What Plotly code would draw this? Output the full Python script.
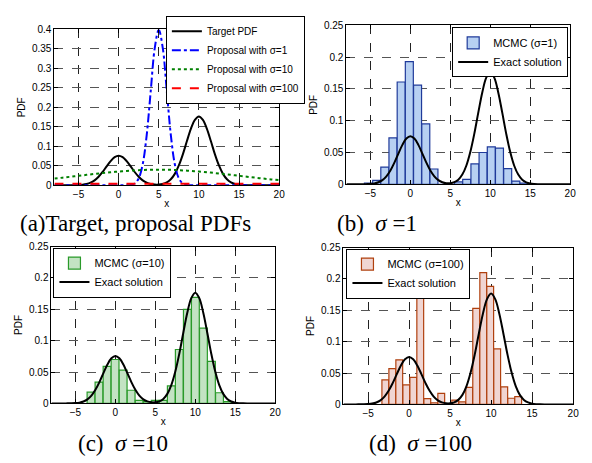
import plotly.graph_objects as go

# ---------------- data ----------------
X_PDF = [-8 + 0.5 * i for i in range(57)]
TARGET_PDF = [0, 0, 0, 0, 0.0001, 0.0002, 0.0005, 0.0013, 0.0031, 0.0065, 0.0125, 0.0217,
              0.0340, 0.0483, 0.0620, 0.0720, 0.0757, 0.0720, 0.0620, 0.0483, 0.0340, 0.0217,
              0.0125, 0.0065, 0.0032, 0.0017, 0.0017, 0.0033, 0.0072, 0.0152, 0.0291, 0.0507,
              0.0793, 0.1127, 0.1446, 0.1679, 0.1766, 0.1679, 0.1446, 0.1127, 0.0793, 0.0507,
              0.0291, 0.0152, 0.0072, 0.0031, 0.0012, 0.0004, 0.0001, 0, 0, 0, 0, 0, 0, 0, 0]
PROP_S1 = [0] * 18 + [0.0001, 0.0009, 0.0044, 0.0175, 0.0540, 0.1295, 0.2420, 0.3521, 0.3989,
                      0.3521, 0.2420, 0.1295, 0.0540, 0.0175, 0.0044, 0.0009, 0.0001] + [0] * 22
X_INT = list(range(-8, 21))
PROP_S10 = [0.0171, 0.0194, 0.0218, 0.0242, 0.0266, 0.0290, 0.0312, 0.0333, 0.0352, 0.0368,
            0.0381, 0.0391, 0.0397, 0.0399, 0.0397, 0.0391, 0.0381, 0.0368, 0.0352, 0.0333,
            0.0312, 0.0290, 0.0266, 0.0242, 0.0218, 0.0194, 0.0171, 0.0150, 0.0130]
PROP_S100 = [0.0040] * 29

# histogram (b) sigma = 1
B_CENTERS = [-5.25, -4.22, -3.2, -2.18, -1.15, -0.13, 0.9, 1.93, 2.95, 3.98, 5.0,
             6.03, 7.05, 8.08, 9.1, 10.13, 11.15, 12.18, 13.2, 14.23]
B_HEIGHTS = [0.002, 0.006, 0.027, 0.073, 0.161, 0.193, 0.156, 0.095, 0.024, 0, 0,
             0.0036, 0.0077, 0.032, 0.050, 0.059, 0.057, 0.0245, 0.005, 0.002]
# histogram (c) sigma = 10
C_CENTERS = [-3.05, -2.05, -1.04, -0.04, 0.97, 1.97, 2.98, 3.98, 4.99, 5.99, 7.0,
             8.0, 9.01, 10.01, 11.02, 12.02, 13.03, 14.03]
C_HEIGHTS = [0.018, 0.034, 0.059, 0.070, 0.053, 0.021, 0.005, 0.003, 0.005, 0.005, 0.028,
             0.086, 0.150, 0.169, 0.120, 0.067, 0.017, 0.003]
# histogram (d) sigma = 100
D_CENTERS = [-2.9, -2.05, -1.2, -0.34, 0.51, 1.36, 2.22, 3.07, 3.92, 4.77, 5.63,
             6.48, 7.33, 8.18, 9.04, 9.89, 10.74, 11.6, 12.45, 13.3]
D_HEIGHTS = [0.039, 0.057, 0.071, 0.031, 0.043, 0.178, 0.0093, 0.0026, 0.0176, 0, 0.0067,
             0.004, 0.027, 0.153, 0.210, 0.188, 0.0885, 0.028, 0.0098, 0.0124]

X_TICKS = [-5, 0, 5, 10, 15, 20]
CAPTIONS = ["(a)Target, proposal PDFs",
            "(b)\u00a0\u00a0<i>σ</i>\u00a0=1",
            "(c)\u00a0\u00a0<i>σ</i>\u00a0=10",
            "(d)\u00a0\u00a0<i>σ</i>\u00a0=100"]

SANS = "Arial, Liberation Sans, sans-serif"
SERIF = "Times New Roman, Liberation Serif, serif"
W, H = 592, 463

fig = go.Figure()

# ---- panel (a)
fig.add_trace(go.Scatter(x=X_PDF, y=TARGET_PDF, mode="lines", name="Target PDF",
                         line=dict(color="black", width=2, shape="spline"),
                         xaxis="x", yaxis="y", legend="legend"))
fig.add_trace(go.Scatter(x=X_PDF, y=PROP_S1, mode="lines", name="Proposal with σ=1",
                         line=dict(color="#0000ff", width=2, dash="dashdot", shape="spline"),
                         xaxis="x", yaxis="y", legend="legend"))
fig.add_trace(go.Scatter(x=X_INT, y=PROP_S10, mode="lines", name="Proposal with σ=10",
                         line=dict(color="#008000", width=2, dash="dot", shape="spline"),
                         xaxis="x", yaxis="y", legend="legend"))
fig.add_trace(go.Scatter(x=X_INT, y=PROP_S100, mode="lines", name="Proposal with σ=100",
                         line=dict(color="#ff0000", width=2, dash="dash"),
                         xaxis="x", yaxis="y", legend="legend"))

hist_specs = [
    (B_CENTERS, B_HEIGHTS, 1.0, "MCMC (σ=1)", "#b7d0f2", "#1f3a9a", "2", "legend2"),
    (C_CENTERS, C_HEIGHTS, 0.98, "MCMC (σ=10)", "#c3e3c3", "#2a9a2a", "3", "legend3"),
    (D_CENTERS, D_HEIGHTS, 0.83, "MCMC (σ=100)", "#f0d5d2", "#b0400e", "4", "legend4"),
]
for cx, hy, wd, nm, fc, lc, ax, lg in hist_specs:
    fig.add_trace(go.Bar(x=cx, y=hy, width=wd, name=nm,
                         marker=dict(color=fc, line=dict(color=lc, width=1.2)),
                         xaxis="x" + ax, yaxis="y" + ax, legend=lg))
    fig.add_trace(go.Scatter(x=X_PDF, y=TARGET_PDF, mode="lines", name="Exact solution",
                             line=dict(color="black", width=2, shape="spline"),
                             xaxis="x" + ax, yaxis="y" + ax, legend=lg))

def px_dom(a, b, total):
    return [a / total, b / total]

def py_dom(top, bottom):
    return [1 - bottom / H, 1 - top / H]

domains = {
    "": (px_dom(55, 282, W), py_dom(24, 184), 0.4),
    "2": (px_dom(350, 576, W), py_dom(20, 183), 0.25),
    "3": (px_dom(52, 278, W), py_dom(247, 408), 0.25),
    "4": (px_dom(347, 579, W), py_dom(248, 409), 0.25),
}

layout = dict(width=W, height=H, margin=dict(l=0, r=0, t=0, b=0),
              paper_bgcolor="white", plot_bgcolor="white", barmode="overlay",
              font=dict(family=SANS, size=10, color="black"))
for ax, (xd, yd, ymax) in domains.items():
    common = dict(showline=True, linecolor="black", linewidth=1, mirror="ticks",
                  ticks="inside", ticklen=4, tickcolor="black", tickwidth=1,
                  zeroline=False, showgrid=True, griddash="dash", gridwidth=1,
                  tickfont=dict(family=SANS, size=10, color="black"))
    layout["xaxis" + ax] = dict(domain=xd, anchor="y" + ax, range=[-8, 20],
                                tickvals=X_TICKS, gridcolor="#222222",
                                title=dict(text="x", font=dict(size=10), standoff=0),
                                **common)
    layout["yaxis" + ax] = dict(domain=yd, anchor="x" + ax, range=[0, ymax],
                                dtick=0.05, tick0=0, gridcolor="#555555",
                                title=dict(text="PDF", font=dict(size=10), standoff=4),
                                **common)

leg_common = dict(bgcolor="white", bordercolor="black", borderwidth=1,
                  yanchor="top", tracegroupgap=0, itemwidth=30)
font10 = dict(family=SANS, size=10, color="black")
font11 = dict(family=SANS, size=11, color="black")
layout["legend"] = dict(x=308 / W, xanchor="right", y=1 - 10 / H, font=font10, **leg_common)
layout["legend2"] = dict(x=574 / W, xanchor="right", y=1 - 22 / H, font=font11, **leg_common)
layout["legend3"] = dict(x=54 / W, xanchor="left", y=1 - 248 / H, font=font11, **leg_common)
layout["legend4"] = dict(x=350 / W, xanchor="left", y=1 - 249 / H, font=font11, **leg_common)

cap_pos = [(18, 223), (338, 223), (77, 449), (371, 449)]
layout["annotations"] = [
    dict(text=t, x=px / W, y=1 - py / H, xref="paper", yref="paper",
         xanchor="left", yanchor="middle", showarrow=False,
         font=dict(family=SERIF, size=23, color="black"))
    for t, (px, py) in zip(CAPTIONS, cap_pos)
]

fig.update_layout(**layout)
fig.write_html("out.html")
